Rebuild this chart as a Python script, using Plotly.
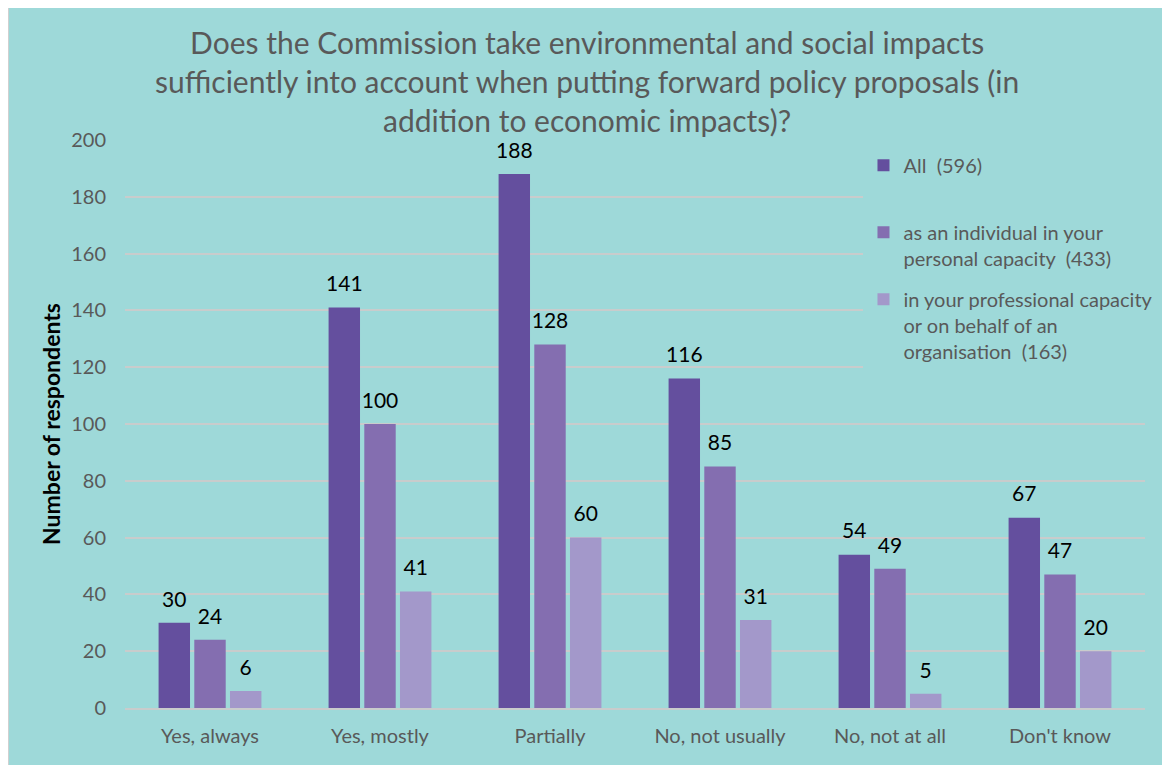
import plotly.graph_objects as go

categories = ['Yes, always', 'Yes, mostly', 'Partially', 'No, not usually', 'No, not at all', "Don't know"]
all_values = [30, 141, 188, 116, 54, 67]
individual_values = [24, 100, 128, 85, 49, 47]
professional_values = [6, 41, 60, 31, 5, 20]

series_names = [
    'All  (596)<br> ',
    'as an individual in your<br>personal capacity  (433)',
    'in your professional capacity<br>or on behalf of an<br>organisation  (163)',
]
SERIES_COLORS = ['#644f9e', '#846eb0', '#a398ca']

TITLE = ('Does the Commission take environmental and social impacts<br>'
         'sufficiently into account when putting forward policy proposals (in<br>'
         'addition to economic impacts)?')

BG = '#9ed9d9'
GRID = '#c9cccc'
FONT = 'Lato, Open Sans, sans-serif'
BARGAP = 0.37

fig = go.Figure()
series = [all_values, individual_values, professional_values]
for i, (name, vals, color) in enumerate(zip(series_names, series, SERIES_COLORS)):
    fig.add_trace(go.Bar(
        x=categories, y=vals, name=name, legendgroup=str(i),
        marker=dict(color=color, line=dict(width=0)),
    ))
# value labels sit a little above the bars, as in the original
for i, vals in enumerate(series):
    fig.add_trace(go.Scatter(
        x=categories, y=vals, mode='markers+text', text=vals,
        textposition='top center', cliponaxis=False, showlegend=False,
        hoverinfo='skip', legendgroup=str(i),
        marker=dict(size=16, opacity=0),
        textfont=dict(family=FONT, size=21, color='#000000'),
    ))

# the page adds an 8px body margin, so the figure is a bit smaller than the window
fig.update_layout(
    width=1160, height=760,
    margin=dict(l=117, r=23, t=132, b=60, autoexpand=False),
    paper_bgcolor='white', plot_bgcolor='rgba(0,0,0,0)',
    barmode='group', bargap=BARGAP, bargroupgap=0.12,
    scattermode='group', scattergap=BARGAP,
    font=dict(family=FONT, color='#595959'),
    legend=dict(
        x=0.724, y=0.99, xanchor='left', yanchor='top',
        bgcolor=BG, valign='top', tracegroupgap=12,
        font=dict(family=FONT, size=20, color='#595959'),
    ),
    annotations=[dict(
        text=TITLE, xref='paper', yref='paper', x=0.453, y=1.104,
        xanchor='center', yanchor='middle', showarrow=False,
        font=dict(family=FONT, size=30, color='#595959'),
    )],
    shapes=[dict(
        type='rect', xref='paper', yref='paper', layer='below',
        x0=-0.1147, x1=1.0206, y0=-0.12, y1=1.2359,
        fillcolor=BG, line=dict(color='#d0d0d0', width=2),
    )],
)

fig.update_xaxes(
    automargin=False,
    showline=True, linecolor=GRID, linewidth=2, showgrid=False,
    ticks='', ticklabelstandoff=9,
    tickfont=dict(family=FONT, size=20, color='#595959'),
)
fig.update_yaxes(
    automargin=False,
    range=[0, 200], dtick=20, showgrid=True, gridcolor=GRID, gridwidth=2,
    zeroline=False, ticks='', ticklabelstandoff=18,
    tickfont=dict(family=FONT, size=20, color='#595959'),
    title=dict(text='<b>Number of respondents</b>', standoff=4,
               font=dict(family=FONT, size=23, color='#000000')),
)

fig.write_html("out.html")
